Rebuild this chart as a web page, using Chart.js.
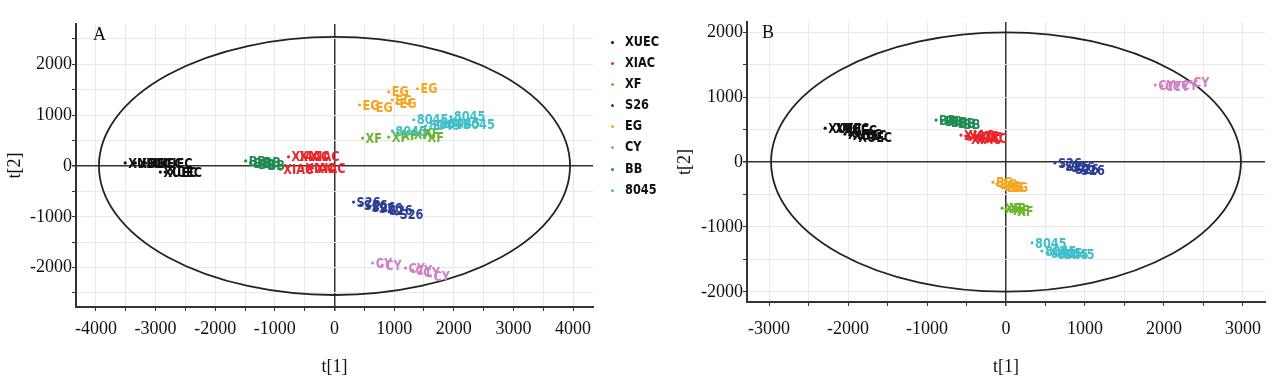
<!DOCTYPE html>
<html>
<head>
<meta charset="utf-8">
<script src="https://cdn.jsdelivr.net/npm/chart.js@4.4.0/dist/chart.umd.min.js"></script>
<style>
body{margin:0;background:#fff;width:1286px;height:387px;position:relative;overflow:hidden}
.box{position:absolute;top:0;height:387px}
#legend{position:absolute;left:606px;top:31px;font:bold 14px "DejaVu Sans Condensed","DejaVu Sans",sans-serif;color:#111}
#legend div{height:21.1px;line-height:21px;position:relative;padding-left:19px}
#legend b{display:inline-block;transform:scaleX(0.9);transform-origin:left center}
#legend span{position:absolute;left:5px;top:10px;width:3px;height:3px;border-radius:50%}
</style>
</head>
<body>
<div class="box" style="left:0;width:620px"><canvas id="chartA"></canvas></div>
<div class="box" style="left:640px;width:646px"><canvas id="chartB"></canvas></div>
<div id="legend"></div>
<script>
// groups and their colours
const groups = ["XUEC", "XIAC", "XF", "S26", "EG", "CY", "BB", "8045"];
const colors = ["#111111", "#e8262a", "#6cb52f", "#2b3d96", "#f4a623", "#d17fc4", "#1f8a52", "#40bfca"];

// panel A scores [t1, t2]
const A_XUEC = [[-3510, 60], [-3340, 60], [-3170, 60], [-3000, 50], [-2920, -120], [-2840, -120]];
const A_XIAC = [[-910, -60], [-770, 180], [-640, 180], [-540, -40], [-470, 180], [-370, -40]];
const A_XF = [[470, 550], [910, 570], [1070, 610], [1280, 630], [1440, 650], [1510, 570]];
const A_S26 = [[320, -710], [440, -770], [570, -810], [690, -830], [860, -870], [1040, -945]];
const A_EG = [[420, 1200], [640, 1160], [910, 1460], [970, 1300], [1040, 1240], [1390, 1520]];
const A_CY = [[640, -1910], [800, -1950], [1190, -2010], [1310, -2050], [1440, -2090], [1610, -2165]];
const A_BB = [[-1490, 100], [-1410, 60], [-1330, 40], [-1240, 80], [-1170, 20]];
const A_8045 = [[970, 690], [1330, 910], [1530, 790], [1700, 810], [1860, 830], [1950, 970], [2110, 810]];

// panel B scores [t1, t2]
const B_XUEC = [[-2290, 520], [-2200, 510], [-2100, 480], [-2040, 430], [-1980, 415], [-1910, 385]];
const B_XIAC = [[-570, 415], [-510, 400], [-480, 355], [-460, 385], [-405, 370]];
const B_XF = [[-50, -710], [0, -720], [50, -740], [100, -755]];
const B_S26 = [[620, -15], [710, -60], [785, -90], [835, -110], [910, -125]];
const B_EG = [[-165, -310], [-115, -340], [-65, -370], [-25, -385], [25, -385]];
const B_CY = [[1890, 1185], [1975, 1170], [2075, 1170], [2180, 1185], [2330, 1230]];
const B_BB = [[-885, 645], [-810, 630], [-735, 615], [-645, 600], [-580, 585]];
const B_8045 = [[330, -1245], [455, -1370], [530, -1400], [610, -1415], [685, -1415]];

// tick / grid values
const xTicksA = [-4000, -3500, -3000, -2500, -2000, -1500, -1000, -500, 0, 500, 1000, 1500, 2000, 2500, 3000, 3500, 4000];
const yTicksA = [-2500, -2000, -1500, -1000, -500, 0, 500, 1000, 1500, 2000, 2500];
const xTicksB = [-3000, -2500, -2000, -1500, -1000, -500, 0, 500, 1000, 1500, 2000, 2500, 3000];
const yTicksB = [-2000, -1500, -1000, -500, 0, 500, 1000, 1500, 2000];

// hotelling ellipse semi axes
const ellipseA = [3950, 2540];
const ellipseB = [2975, 1995];

const labelFont = 'bold 14px "DejaVu Sans Condensed", "DejaVu Sans", sans-serif';
const serif = "'Liberation Serif', 'Times New Roman', serif";

function makeSets(list) {
  return groups.map((g, i) => ({
    label: g,
    data: list[i].map(p => ({ x: p[0], y: p[1] })),
    pointRadius: 1.6,
    pointBorderWidth: 0,
    pointBackgroundColor: colors[i],
    backgroundColor: colors[i],
    showLine: false
  }));
}

const scorePlot = {
  id: "scorePlot",
  beforeDatasetsDraw(chart, args, opts) {
    const { ctx, scales: { x, y } } = chart;
    const cx = x.getPixelForValue(0), cy = y.getPixelForValue(0);
    ctx.save();
    ctx.beginPath();
    ctx.ellipse(cx, cy, x.getPixelForValue(opts.ellipse[0]) - cx, cy - y.getPixelForValue(opts.ellipse[1]), 0, 0, Math.PI * 2);
    ctx.strokeStyle = "#222";
    ctx.lineWidth = 1.8;
    ctx.stroke();
    ctx.restore();
  },
  afterDatasetsDraw(chart, args, opts) {
    const ctx = chart.ctx;
    ctx.save();
    ctx.font = labelFont;
    ctx.textBaseline = "middle";
    chart.data.datasets.forEach((ds, i) => {
      ctx.fillStyle = colors[i];
      chart.getDatasetMeta(i).data.forEach(el => {
        ctx.save();
        ctx.translate(el.x + 3, el.y + 1);
        ctx.scale(0.9, 1);
        ctx.fillText(ds.label, 0, 0);
        ctx.restore();
      });
    });
    ctx.fillStyle = "#111";
    ctx.font = "18px " + serif;
    ctx.fillText(opts.letter, chart.chartArea.left + opts.letterPos[0], opts.letterPos[1]);
    ctx.restore();
  }
};

function axisX(min, max, ticks, h, pad) {
  return {
    type: "linear", min: min, max: max,
    afterBuildTicks: s => { s.ticks = ticks.map(v => ({ value: v })); },
    afterFit: s => { s.height = h; },
    ticks: {
      callback: v => (v % 1000 === 0 ? String(v) : ""),
      autoSkip: false, maxRotation: 0, padding: pad,
      color: "#111", font: { family: serif, size: 18 }
    },
    grid: {
      color: c => (c.tick && c.tick.value === 0 ? "#333" : "#e9e9e9"),
      lineWidth: c => (c.tick && c.tick.value === 0 ? 1.5 : 1),
      tickColor: "#333", tickLength: 4
    },
    border: { color: "#333", width: 2 },
    title: { display: true, text: "t[1]", color: "#111", font: { family: serif, size: 18 }, padding: { top: 0, bottom: 9 } }
  };
}

function axisY(min, max, ticks, w, titlePad) {
  return {
    type: "linear", min: min, max: max,
    afterBuildTicks: s => { s.ticks = ticks.map(v => ({ value: v })); },
    afterFit: s => { s.width = w; },
    ticks: {
      callback: v => (v % 1000 === 0 ? String(v) : ""),
      autoSkip: false, padding: 0,
      color: "#111", font: { family: serif, size: 18 }
    },
    grid: {
      color: c => (c.tick && c.tick.value === 0 ? "#333" : "#e9e9e9"),
      lineWidth: c => (c.tick && c.tick.value === 0 ? 1.5 : 1),
      tickColor: "#333", tickLength: 4
    },
    border: { color: "#333", width: 2 },
    title: { display: true, text: "t[2]", color: "#111", font: { family: serif, size: 18 }, padding: { top: titlePad, bottom: 0 } }
  };
}

function makeChart(id, list, xs, ys, pad, plug) {
  return new Chart(document.getElementById(id), {
    type: "scatter",
    data: { datasets: makeSets(list) },
    options: {
      responsive: true,
      maintainAspectRatio: false,
      animation: false,
      layout: { padding: pad },
      plugins: { legend: { display: false }, tooltip: { enabled: false }, scorePlot: plug },
      scales: { x: xs, y: ys }
    },
    plugins: [scorePlot]
  });
}

makeChart("chartA",
  [A_XUEC, A_XIAC, A_XF, A_S26, A_EG, A_CY, A_BB, A_8045],
  axisX(-4335, 4335, xTicksA, 80, 7),
  axisY(-2776, 2795, yTicksA, 76, 4),
  { top: 24, right: 27, left: 0, bottom: 0 },
  { ellipse: ellipseA, letter: "A", letterPos: [17, 35] });

makeChart("chartB",
  [B_XUEC, B_XIAC, B_XF, B_S26, B_EG, B_CY, B_BB, B_8045],
  axisX(-3280, 3280, xTicksB, 85, 12),
  axisY(-2154, 2154, yTicksB, 107, 34),
  { top: 22, right: 21, left: 0, bottom: 0 },
  { ellipse: ellipseB, letter: "B", letterPos: [15, 33] });

// legend between the panels
const legend = document.getElementById("legend");
groups.forEach((g, i) => {
  const row = document.createElement("div");
  row.innerHTML = '<span style="background:' + colors[i] + '"></span><b>' + g + '</b>';
  legend.appendChild(row);
});
</script>
</body>
</html>
